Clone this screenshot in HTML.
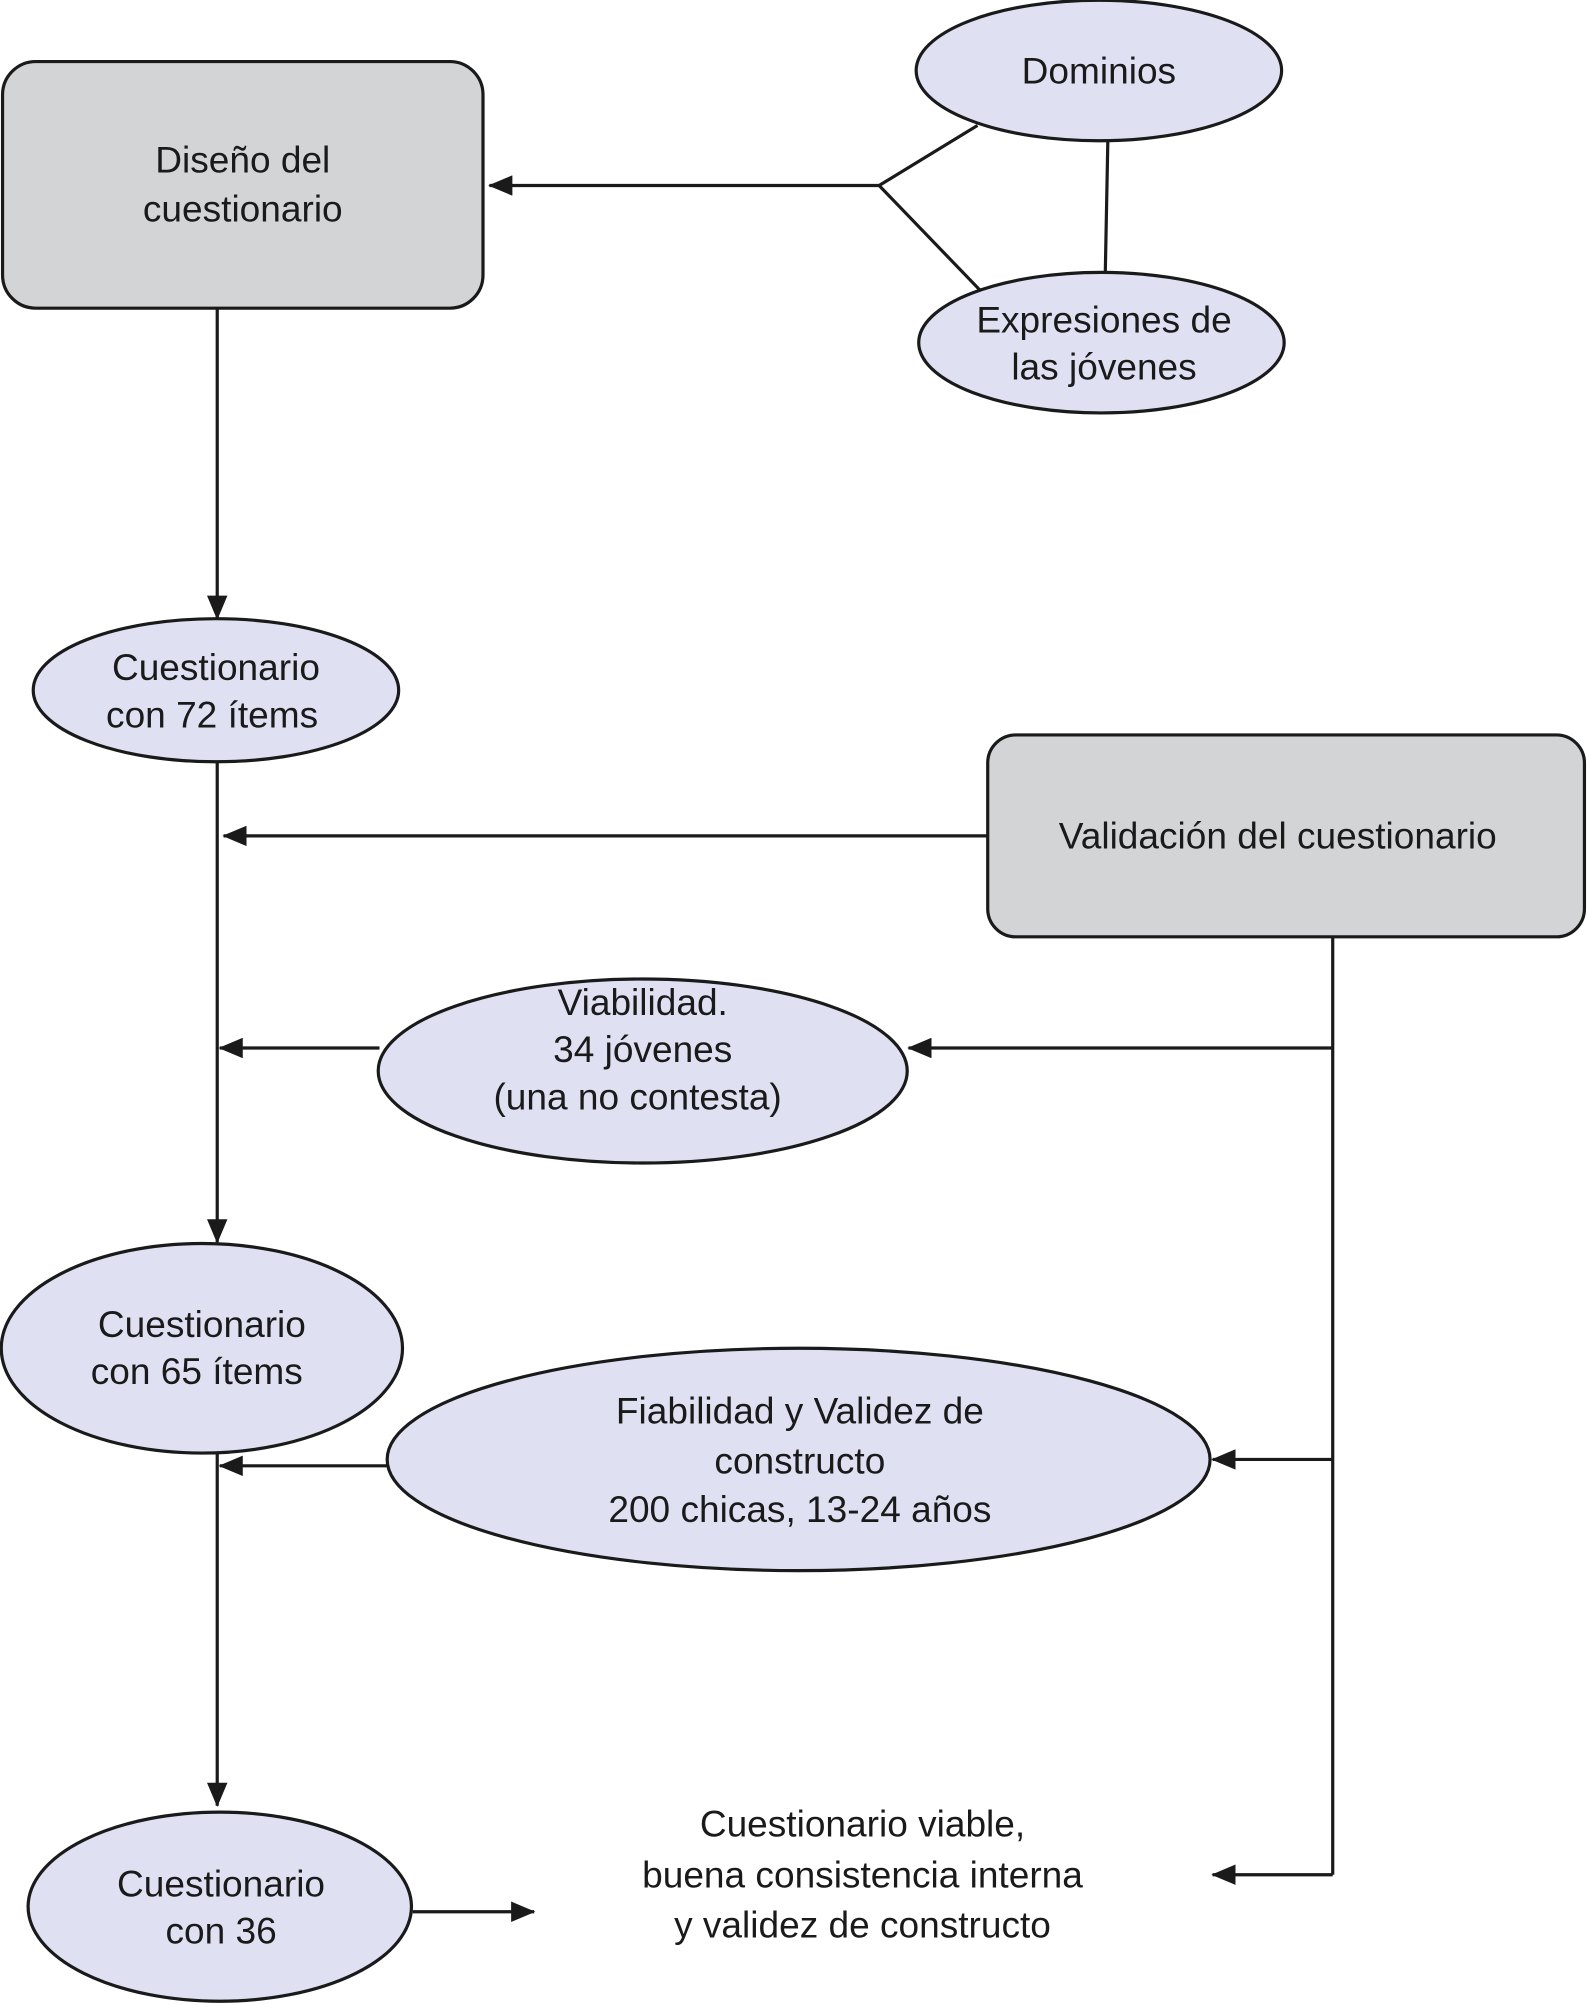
<!DOCTYPE html>
<html><head><meta charset="utf-8"><style>
html,body{margin:0;padding:0;background:#fff}
svg{display:block}
text{font-family:"Liberation Sans",Arial,sans-serif;font-size:29px;fill:#1a1a1a;text-anchor:middle}
</style></head><body>
<svg width="1587" height="2004" viewBox="0 0 1242 1568" xmlns="http://www.w3.org/2000/svg">
<defs>
<marker id="a" markerWidth="20" markerHeight="16" refX="18" refY="8" orient="auto" markerUnits="userSpaceOnUse">
<path d="M0,0 L19,8 L0,16 Z" fill="#1a1a1a"/></marker>
</defs>
<g stroke="#1a1a1a" stroke-width="2.5" fill="none">
<!-- top connectors -->
<line x1="765" y1="98" x2="688" y2="145"/>
<line x1="688" y1="145" x2="768" y2="228"/>
<line x1="867" y1="110" x2="865" y2="214"/>
<line x1="688" y1="145" x2="383" y2="145" marker-end="url(#a)"/>
<line x1="170" y1="241" x2="170" y2="484" marker-end="url(#a)"/>
<line x1="170" y1="596" x2="170" y2="972" marker-end="url(#a)"/>
<line x1="773" y1="654" x2="175" y2="654" marker-end="url(#a)"/>
<line x1="297" y1="820" x2="172" y2="820" marker-end="url(#a)"/>
<line x1="1043" y1="733" x2="1043" y2="1467"/>
<line x1="1043" y1="820" x2="711" y2="820" marker-end="url(#a)"/>
<line x1="1043" y1="1142" x2="949" y2="1142" marker-end="url(#a)"/>
<line x1="1043" y1="1467" x2="949" y2="1467" marker-end="url(#a)"/>
<line x1="303" y1="1147" x2="172" y2="1147" marker-end="url(#a)"/>
<line x1="170" y1="1137" x2="170" y2="1413" marker-end="url(#a)"/>
<line x1="323" y1="1496" x2="418" y2="1496" marker-end="url(#a)"/>
</g>
<g stroke="#1a1a1a" stroke-width="2.5">
<rect x="2" y="48" width="376" height="193" rx="26" fill="#d3d4d6"/>
<rect x="773" y="575" width="467" height="158" rx="22" fill="#d3d4d6"/>
<g fill="#dfe1f3">
<ellipse cx="860" cy="55" rx="143" ry="55"/>
<ellipse cx="862" cy="268" rx="143" ry="55"/>
<ellipse cx="169" cy="540" rx="143" ry="56"/>
<ellipse cx="503" cy="838" rx="207" ry="72"/>
<ellipse cx="158" cy="1055" rx="157" ry="82"/>
<ellipse cx="625" cy="1142" rx="322" ry="87"/>
<ellipse cx="172" cy="1492" rx="150" ry="74"/>
</g>
</g>
<text x="190" y="135">Diseño del</text>
<text x="190" y="173">cuestionario</text>
<text x="860" y="65">Dominios</text>
<text x="864" y="260">Expresiones de</text>
<text x="864" y="297">las jóvenes</text>
<text x="169" y="532">Cuestionario</text>
<text x="166" y="569">con 72 ítems</text>
<text x="1000" y="664">Validación del cuestionario</text>
<text x="503" y="794">Viabilidad.</text>
<text x="503" y="831">34 jóvenes</text>
<text x="499" y="868">(una no contesta)</text>
<text x="158" y="1046">Cuestionario</text>
<text x="154" y="1083">con 65 ítems</text>
<text x="626" y="1114">Fiabilidad y Validez de</text>
<text x="626" y="1153">constructo</text>
<text x="626" y="1191">200 chicas, 13-24 años</text>
<text x="173" y="1484">Cuestionario</text>
<text x="173" y="1521">con 36</text>
<text x="675" y="1437">Cuestionario viable,</text>
<text x="675" y="1477">buena consistencia interna</text>
<text x="675" y="1516">y validez de constructo</text>
</svg>
</body></html>
